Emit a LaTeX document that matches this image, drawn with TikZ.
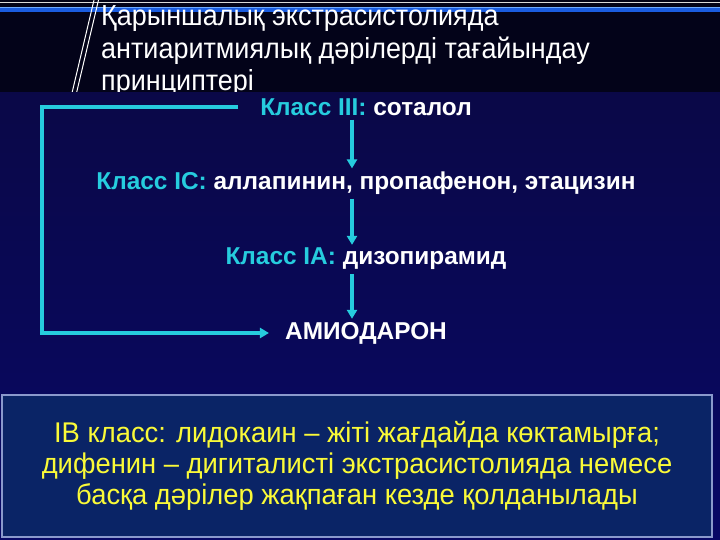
\documentclass[tikz,border=0pt]{standalone}
\usepackage{fontspec}
\setmainfont{Liberation Sans}
\newfontfamily\narrowfont[FakeStretch=0.93]{Liberation Sans}
\newfontfamily\noticefont[FakeStretch=0.96]{Liberation Sans}
\usepackage{tikz}
\usetikzlibrary{arrows.meta}
\usetikzlibrary{positioning}
\tikzset{
  >={Triangle[length=9pt,width=10pt]}
}
\usepackage{xcolor}

\begin{document}
\begin{tikzpicture}[x=1pt,y=-1pt]

            % COLORS
            \definecolor{headcolor}{rgb}{ 0.012 0.012 0.10 }
            \definecolor{paneltop}{rgb}{ 0.04 0.03 0.28 }
            \definecolor{panelbot}{rgb}{ 0.03 0.03 0.40 }
            \definecolor{boxcolor}{rgb}{ 0.04 0.14 0.40 }
            \definecolor{boxline}{rgb}{ 0.54 0.60 0.80 }
            \definecolor{flowcolor}{rgb}{ 0.15 0.80 0.87 }
            \definecolor{noticecolor}{rgb}{ 0.98 0.98 0.22 }

            % DEF STYLES
            \tikzstyle{titlestyle} = [anchor=west, inner sep=0pt, text=white, font=\narrowfont\fontsize{29}{31}\selectfont]
            \tikzstyle{classstyle} = [inner sep=0pt, text=white, font=\bfseries\fontsize{24.4}{27}\selectfont]
            \tikzstyle{flowstyle} = [line width=3.5pt, color=flowcolor, ->]
            \tikzstyle{noticestyle} = [draw=boxline, line width=2pt, fill=boxcolor, text=noticecolor, align=center, minimum width=710pt, minimum height=142pt, inner sep=0pt, font=\noticefont\fontsize{28.5}{31}\selectfont]

            \useasboundingbox (0,0) rectangle (720,540);

            % BACKGROUND
            \fill[headcolor] (0,0) rectangle (720,540);
            \draw[white!85!black, line width=1pt] (0,2.5) -- (720,2.5);
            \draw[color={rgb,255:red,26;green,92;blue,224}, line width=4pt] (0,10) -- (720,10);
            \draw[color={rgb,255:red,110;green,170;blue,255}, line width=1pt] (0,8) -- (720,8);
            \draw[white, line width=1pt] (94,0) -- (72,93);
            \draw[white, line width=1pt] (98.5,0) -- (76.5,93);

            % TITLE
            \begin{scope}
              \clip (0,0) rectangle (720,93);
              \node[titlestyle] (t1) at (101,19) {Қарыншалық экстрасистолияда};
              \node[titlestyle] (t2) at (101,51) {антиаритмиялық дәрілерді тағайындау};
              \node[titlestyle] (t3) at (101,83) {принциптері};
            \end{scope}
            \shade[top color=paneltop, bottom color=panelbot] (0,93) rectangle (720,540);

            % CLASSES
            \node[classstyle] (kl3) at (366,107) {\textcolor{flowcolor}{Класс III:} соталол};
            \node[classstyle] (klc) at (366,183) {\textcolor{flowcolor}{Класс IC:} аллапинин, пропафенон, этацизин};
            \node[classstyle] (kla) at (366,259) {\textcolor{flowcolor}{Класс IA:} дизопирамид};
            \node[classstyle] (amio) at (366,333) {АМИОДАРОН};

            % ARROWS
            \foreach \i/\k in {kl3/klc, klc/kla, kla/amio} {
              \draw[flowstyle] ([xshift=-14pt, yshift=-4pt]\i.south) -- ([xshift=-14pt, yshift=3pt]\k.north);
            }
            \draw[flowstyle] ([xshift=-22pt]kl3.west) -- ++(-196,0) |- ([xshift=-16pt]amio.west);

            % NOTICE
            \node[noticestyle] (ib) at (357,466) {IB класс: лидокаин – жіті жағдайда көктамырға;\\дифенин – дигиталисті экстрасистолияда немесе\\басқа дәрілер жақпаған кезде қолданылады};

\end{tikzpicture}
\end{document}
